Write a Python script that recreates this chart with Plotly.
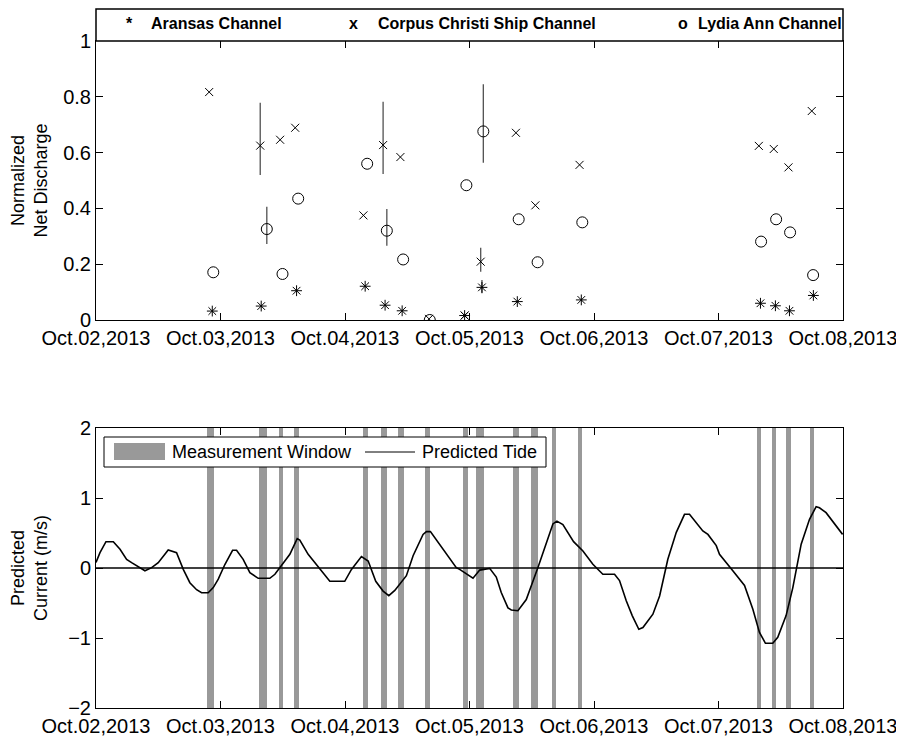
import pandas as pd
import plotly.graph_objects as go

BASE = pd.Timestamp("2013-10-02 00:00")

# ---- Top panel: normalized net discharge (x in days since Oct.02,2013 00:00)
aransas_day = [0.934, 1.327, 1.611, 2.162, 2.322, 2.459, 2.961, 3.100, 3.384, 3.898, 5.337, 5.457, 5.570, 5.762]
aransas_val = [0.032, 0.050, 0.105, 0.121, 0.053, 0.033, 0.016, 0.117, 0.066, 0.072, 0.060, 0.051, 0.033, 0.088]
aransas_hi = [0, 0, 0, 0, 0, 0, 0, 0.026, 0, 0, 0, 0, 0, 0]
aransas_lo = [0, 0, 0, 0, 0, 0, 0, 0.021, 0, 0, 0, 0, 0, 0]

corpus_day = [0.909, 1.319, 1.479, 1.600, 2.148, 2.306, 2.445, 2.675, 2.961, 3.090, 3.373, 3.529, 3.884, 5.324, 5.444, 5.562, 5.749]
corpus_val = [0.817, 0.625, 0.646, 0.689, 0.375, 0.627, 0.584, 0.004, 0.016, 0.209, 0.671, 0.411, 0.556, 0.624, 0.613, 0.547, 0.749]
corpus_hi = [0, 0.154, 0, 0, 0, 0.155, 0, 0, 0, 0.050, 0, 0, 0, 0, 0, 0, 0]
corpus_lo = [0, 0.105, 0, 0, 0, 0.104, 0, 0, 0, 0.036, 0, 0, 0, 0, 0, 0, 0]

lydia_day = [0.942, 1.372, 1.498, 1.624, 2.178, 2.336, 2.467, 2.681, 2.975, 3.111, 3.395, 3.547, 3.906, 5.342, 5.463, 5.575, 5.760]
lydia_val = [0.171, 0.326, 0.165, 0.435, 0.560, 0.320, 0.217, 0.000, 0.483, 0.676, 0.361, 0.207, 0.350, 0.281, 0.361, 0.314, 0.161]
lydia_hi = [0, 0.080, 0, 0, 0, 0.078, 0, 0, 0, 0.169, 0, 0, 0, 0, 0, 0, 0]
lydia_lo = [0, 0.054, 0, 0, 0, 0.054, 0, 0, 0, 0.112, 0, 0, 0, 0, 0, 0, 0]

# ---- Bottom panel: measurement windows (center day, duration minutes)
window_day = [0.920, 1.341, 1.485, 1.610, 2.164, 2.312, 2.448, 2.665, 2.965, 3.082,
              3.376, 3.523, 3.676, 3.887, 5.324, 5.447, 5.565, 5.749]
window_min = [81, 89, 46, 58, 54, 66, 66, 61, 61, 89, 66, 89, 46, 54, 54, 50, 58, 46]

# Predicted tide current (m/s)
tide_day = [0.000, 0.032, 0.080, 0.139, 0.193, 0.246, 0.286, 0.326, 0.393, 0.447, 0.500, 0.580, 0.647,
            0.701, 0.754, 0.808, 0.848, 0.901, 0.942, 0.982, 1.035, 1.097, 1.129, 1.182, 1.236, 1.303,
            1.396, 1.437, 1.490, 1.557, 1.616, 1.637, 1.704, 1.798, 1.878, 1.998, 2.052, 2.132, 2.186,
            2.247, 2.306, 2.352, 2.400, 2.493, 2.547, 2.627, 2.654, 2.686, 2.787, 2.841, 2.894, 2.921,
            2.975, 3.028, 3.082, 3.108, 3.135, 3.162, 3.215, 3.255, 3.309, 3.336, 3.389, 3.456, 3.549,
            3.616, 3.670, 3.702, 3.750, 3.836, 3.911, 3.991, 4.071, 4.165, 4.205, 4.259, 4.307, 4.360,
            4.393, 4.473, 4.527, 4.593, 4.661, 4.727, 4.767, 4.874, 4.915, 4.982, 5.008, 5.115, 5.209,
            5.276, 5.329, 5.377, 5.436, 5.476, 5.543, 5.597, 5.664, 5.731, 5.784, 5.811, 5.864, 5.997]
tide_val = [0.08, 0.22, 0.376, 0.376, 0.267, 0.124, 0.077, 0.03, -0.04, 0.005, 0.076, 0.257, 0.219,
            -0.02, -0.21, -0.31, -0.353, -0.353, -0.28, -0.16, 0.05, 0.253, 0.253, 0.124, -0.067, -0.147,
            -0.147, -0.09, 0.03, 0.196, 0.42, 0.40, 0.196, -0.02, -0.19, -0.19, -0.02, 0.163, 0.10,
            -0.19, -0.33, -0.395, -0.32, -0.11, 0.175, 0.48, 0.52, 0.52, 0.267, 0.15, 0.005, -0.02,
            -0.09, -0.147, -0.03, -0.02, -0.005, -0.005, -0.13, -0.35, -0.57, -0.60, -0.61, -0.45, 0.005,
            0.34, 0.63, 0.67, 0.62, 0.376, 0.243, 0.053, -0.09, -0.09, -0.18, -0.467, -0.68, -0.876,
            -0.85, -0.66, -0.40, 0.124, 0.51, 0.767, 0.767, 0.53, 0.48, 0.32, 0.196, -0.04, -0.25,
            -0.59, -0.92, -1.076, -1.076, -0.99, -0.68, -0.28, 0.34, 0.696, 0.876, 0.86, 0.79, 0.48]

day_ticks = [0, 1, 2, 3, 4, 5, 6]
legend_top = ["Aransas Channel", "Corpus Christi Ship Channel", "Lydia Ann Channel"]
legend_top_glyph = ["*", "x", "o"]


def to_dt(days):
    return BASE + pd.to_timedelta(pd.Series(days, dtype=float), unit="D")


FONT = "Liberation Sans, Arial, Helvetica, sans-serif"
ERR = "#505050"

fig = go.Figure()


def add_series(days, vals, hi, lo, symbol, size, name):
    fig.add_trace(go.Scatter(
        x=to_dt(days), y=vals, mode="markers", name=name, showlegend=False,
        marker=dict(symbol=symbol, size=size, color="black", line=dict(color="black", width=1)),
        error_y=dict(type="data", symmetric=False, array=hi, arrayminus=lo,
                     color=ERR, thickness=1.3, width=0),
        xaxis="x", yaxis="y"))


add_series(aransas_day, aransas_val, aransas_hi, aransas_lo, "asterisk-open", 9, legend_top[0])
add_series(corpus_day, corpus_val, corpus_hi, corpus_lo, "x-thin-open", 8, legend_top[1])
add_series(lydia_day, lydia_val, lydia_hi, lydia_lo, "circle-open", 11, legend_top[2])

# measurement windows as bars spanning the whole y range
fig.add_trace(go.Bar(
    x=to_dt(window_day), y=[4] * len(window_day), base=[-2] * len(window_day),
    width=[m * 60 * 1000 for m in window_min],
    marker=dict(color="#999999", line=dict(width=0)),
    name="Measurement Window", showlegend=False, xaxis="x2", yaxis="y2"))

fig.add_trace(go.Scatter(
    x=to_dt(tide_day), y=tide_val, mode="lines", line=dict(color="black", width=1.6),
    name="Predicted Tide", showlegend=False, xaxis="x2", yaxis="y2"))

tickvals = list(to_dt(day_ticks))
xcommon = dict(type="date", range=[tickvals[0], tickvals[-1]], tickvals=tickvals,
               tickformat="%b.%d,%Y", ticks="inside", ticklen=7, tickcolor="black",
               showline=True, linecolor="black", linewidth=1, mirror="ticks",
               showgrid=False, zeroline=False, automargin=False,
               tickfont=dict(size=20, color="black"))
ycommon = dict(ticks="inside", ticklen=7, tickcolor="black", showline=True, linecolor="black",
               linewidth=1, mirror="ticks", showgrid=False, zeroline=False, automargin=False,
               tickfont=dict(size=20, color="black"))

# The page body adds an 8px offset; figure is sized so it fills the 904x740 window.
OFF = 8
W, H = 904 - OFF, 740 - OFF
L, R, T, B = 96 - OFF, 904 - 843, 41 - OFF, 740 - 708


def py(pix):
    # page pixel y -> paper coordinate (plot area spans page y 41..708)
    return (708 - pix) / (708 - 41)


def px(pix):
    # page pixel x -> paper coordinate (plot area spans page x 96..843)
    return (pix - 96) / (843 - 96)


fig.update_layout(
    width=W, height=H,
    margin=dict(l=L, r=R, t=T, b=B, autoexpand=False),
    paper_bgcolor="white", plot_bgcolor="white",
    font=dict(family=FONT, size=18, color="black"),
    bargap=0, barmode="overlay",
    xaxis=dict(domain=[0, 1], anchor="y", **xcommon),
    yaxis=dict(domain=[py(320), 1], anchor="x", range=[0, 1],
               tickvals=[0, 0.2, 0.4, 0.6, 0.8, 1],
               title=dict(text="Normalized<br>Net Discharge", standoff=10, font=dict(size=18)),
               **ycommon),
    xaxis2=dict(domain=[0, 1], anchor="y2", **xcommon),
    yaxis2=dict(domain=[0, py(428)], anchor="x2", range=[-2, 2],
                tickvals=[-2, -1, 0, 1, 2],
                title=dict(text="Predicted<br>Current (m/s)", standoff=18, font=dict(size=18)),
                **ycommon),
    showlegend=False,
)

# zero line in the lower panel
fig.add_shape(type="line", xref="x2 domain", yref="y2", x0=0, x1=1, y0=0, y1=0,
              line=dict(color="black", width=1.5), layer="above")

# top legend box
fig.add_shape(type="rect", xref="paper", yref="paper", x0=0, x1=1, y0=1, y1=py(9),
              line=dict(color="black", width=1.5), fillcolor="white")
glyph_x = [129, 353, 683]
label_x = [149, 376, 696]
for g, gx, lab, lx in zip(legend_top_glyph, glyph_x, legend_top, label_x):
    fig.add_annotation(xref="paper", yref="paper", x=px(gx), y=py(23), text="<b>%s</b>" % g,
                       showarrow=False, xanchor="center", yanchor="middle", font=dict(size=16))
    fig.add_annotation(xref="paper", yref="paper", x=px(lx), y=py(23), text="<b>%s</b>" % lab,
                       showarrow=False, xanchor="left", yanchor="middle", font=dict(size=16))

# bottom legend box
fig.add_shape(type="rect", xref="paper", yref="paper", x0=px(104), x1=px(546), y0=py(467), y1=py(437),
              line=dict(color="black", width=1), fillcolor="white", layer="above")
fig.add_shape(type="rect", xref="paper", yref="paper", x0=px(114), x1=px(165), y0=py(460), y1=py(443),
              line=dict(width=0), fillcolor="#999999", layer="above")
fig.add_shape(type="line", xref="paper", yref="paper", x0=px(365), x1=px(415), y0=py(452), y1=py(452),
              line=dict(color="black", width=1), layer="above")
fig.add_annotation(xref="paper", yref="paper", x=px(170), y=py(452), text="Measurement Window",
                   showarrow=False, xanchor="left", yanchor="middle", font=dict(size=18))
fig.add_annotation(xref="paper", yref="paper", x=px(420), y=py(452), text="Predicted Tide",
                   showarrow=False, xanchor="left", yanchor="middle", font=dict(size=18))

fig.write_html("out.html")
